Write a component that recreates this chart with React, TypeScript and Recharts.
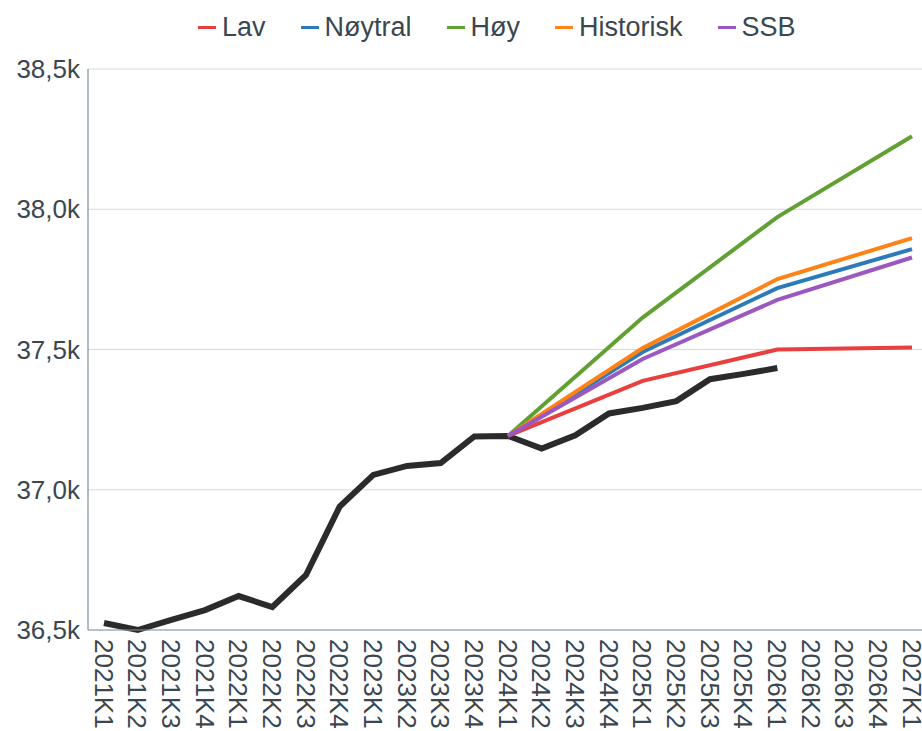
import { CartesianGrid, Legend, Line, LineChart, XAxis, YAxis } from "recharts";

const quarters = [
  "2021K1", "2021K2", "2021K3", "2021K4",
  "2022K1", "2022K2", "2022K3", "2022K4",
  "2023K1", "2023K2", "2023K3", "2023K4",
  "2024K1", "2024K2", "2024K3", "2024K4",
  "2025K1", "2025K2", "2025K3", "2025K4",
  "2026K1", "2026K2", "2026K3", "2026K4",
  "2027K1",
];

// observed values, ends at 2026K1
const actual = [
  36525, 36500, 36536, 36571, 36621, 36582, 36696, 36940,
  37053, 37085, 37095, 37190, 37192, 37147, 37194, 37272,
  37292, 37316, 37394, 37413, 37434,
];

// scenario values at 2024K1, 2025K1, 2026K1, 2027K1
const scenarioQuarters = ["2024K1", "2025K1", "2026K1", "2027K1"];
const lav = [37192, 37388, 37500, 37507];
const noytral = [37192, 37491, 37719, 37858];
const hoy = [37192, 37614, 37972, 38260];
const historisk = [37192, 37505, 37751, 37897];
const ssb = [37192, 37466, 37677, 37828];

const yTicks = [36500, 37000, 37500, 38000, 38500];

const series = [
  { key: "lav", label: "Lav", color: "#e8403f", values: lav },
  { key: "noytral", label: "Nøytral", color: "#2b7bba", values: noytral },
  { key: "hoy", label: "Høy", color: "#62a033", values: hoy },
  { key: "historisk", label: "Historisk", color: "#ff8216", values: historisk },
  { key: "ssb", label: "SSB", color: "#9b58bf", values: ssb },
];

const data = quarters.map((q, i) => {
  const row: Record<string, string | number | null> = {
    quarter: q,
    actual: i < actual.length ? actual[i] : null,
  };
  const s = scenarioQuarters.indexOf(q);
  series.forEach((ser) => {
    row[ser.key] = s >= 0 ? ser.values[s] : null;
  });
  return row;
});

const textColor = "#3a4750";
const font = "'Liberation Sans', Arial, sans-serif";

const formatK = (v: number) => (v / 1000).toFixed(1).replace(".", ",") + "k";

function QuarterTick({ x, y, payload }: any) {
  return (
    <text
      x={x}
      y={y}
      dx={1}
      dy="0.36em"
      transform={`rotate(90, ${x}, ${y})`}
      textAnchor="start"
      fill={textColor}
      fontSize={26}
      fontFamily={font}
    >
      {payload.value}
    </text>
  );
}

function ScenarioLegend() {
  return (
    <div
      style={{
        display: "flex",
        alignItems: "center",
        height: 54,
        paddingLeft: 198,
        gap: 35,
        fontFamily: font,
        fontSize: 27,
        color: textColor,
      }}
    >
      {series.map((s) => (
        <div key={s.key} style={{ display: "flex", alignItems: "center" }}>
          <span
            style={{
              display: "inline-block",
              width: 18,
              height: 3,
              background: s.color,
              marginRight: 6,
            }}
          />
          <span>{s.label}</span>
        </div>
      ))}
    </div>
  );
}

export default function App() {
  return (
    <div
      style={{
        position: "fixed",
        left: 0,
        top: 0,
        width: 922,
        height: 731,
        overflow: "hidden",
        background: "#fff",
      }}
    >
      <LineChart
        width={930}
        height={750}
        data={data}
        margin={{ top: 15, right: 2, bottom: 0, left: 0 }}
        style={{ fontFamily: font }}
      >
        <CartesianGrid vertical={false} stroke="#d3dae1" />
        <XAxis
          dataKey="quarter"
          interval={0}
          height={120}
          padding={{ left: 16, right: 16 }}
          tickLine={false}
          stroke="#8a98a3"
          tick={<QuarterTick />}
        />
        <YAxis
          width={88}
          domain={[36500, 38500]}
          ticks={yTicks}
          tickFormatter={formatK}
          tickLine={false}
          stroke="#6b7b87"
          tick={{ fill: textColor, fontSize: 26, fontFamily: font }}
        />
        <Legend
          verticalAlign="top"
          height={54}
          wrapperStyle={{ top: 0, left: 0 }}
          content={<ScenarioLegend />}
        />
        <Line
          dataKey="actual"
          stroke="#2b2b2b"
          strokeWidth={6}
          dot={false}
          legendType="none"
          isAnimationActive={false}
        />
        {series.map((s) => (
          <Line
            key={s.key}
            dataKey={s.key}
            name={s.label}
            stroke={s.color}
            strokeWidth={4}
            dot={false}
            connectNulls
            isAnimationActive={false}
          />
        ))}
      </LineChart>
    </div>
  );
}
